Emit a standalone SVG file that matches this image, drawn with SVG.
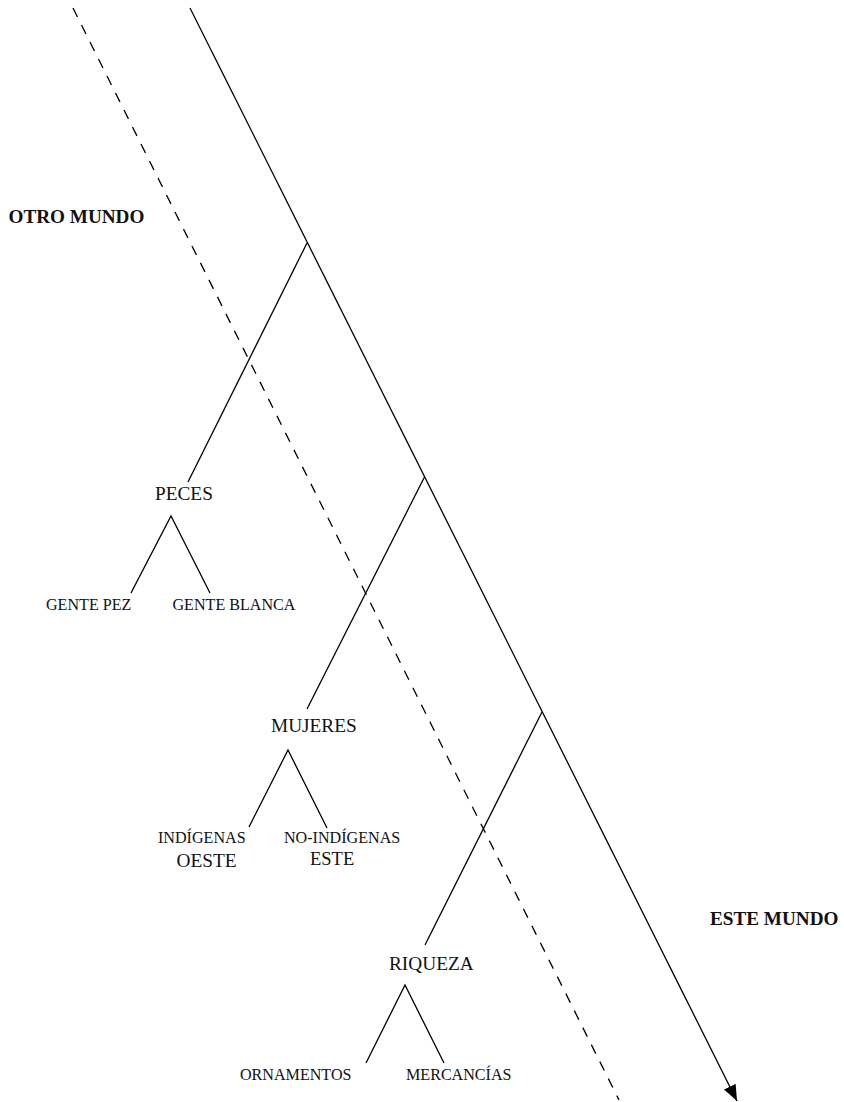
<svg xmlns="http://www.w3.org/2000/svg" width="844" height="1102" viewBox="0 0 844 1102">
<style>
  text { font-family: "Liberation Serif", "Times New Roman", serif; fill: #111; }
  .big { font-size: 19.3px; }
  .small { font-size: 16.1px; }
  .bold { font-size: 19.2px; font-weight: bold; }
  .ln { stroke: #000; stroke-width: 1.3; fill: none; }
  .dash { stroke: #000; stroke-width: 1.3; fill: none; stroke-dasharray: 10 9; }
</style>
<defs>
  <marker id="arrow" markerUnits="userSpaceOnUse" markerWidth="16" markerHeight="13" refX="16" refY="6.5" orient="auto">
    <path d="M0,0 L16,6.5 L0,13 z" fill="#000"/>
  </marker>
</defs>
<rect width="844" height="1102" fill="#fff"/>
<g id="connectors">
  <line class="dash" x1="73" y1="8" x2="619" y2="1100"/>
  <line class="ln" x1="190" y1="8" x2="737" y2="1101" marker-end="url(#arrow)"/>
  <line class="ln" x1="307" y1="243" x2="188" y2="482"/>
  <line class="ln" x1="424.5" y1="477" x2="307" y2="709"/>
  <line class="ln" x1="542" y1="712" x2="425" y2="945"/>
  <polyline class="ln" points="131,593 171,516 210,593"/>
  <polyline class="ln" points="249,827 288,750 327,828"/>
  <polyline class="ln" points="366,1063 405,985 444,1063"/>
</g>
<g id="otro-mundo"><text class="bold" x="8.5" y="222.5">OTRO MUNDO</text></g>
<g id="este-mundo"><text class="bold" x="710" y="925">ESTE MUNDO</text></g>
<g id="peces"><text class="big" x="155" y="499.5">PECES</text></g>
<g id="gente-pez"><text class="small" x="46" y="610">GENTE PEZ</text></g>
<g id="gente-blanca"><text class="small" x="172.5" y="610">GENTE BLANCA</text></g>
<g id="mujeres"><text class="big" x="271" y="731.5">MUJERES</text></g>
<g id="indigenas"><text class="small" x="158" y="843">INDÍGENAS</text><text class="big" x="176.5" y="866.5">OESTE</text></g>
<g id="no-indigenas"><text class="small" x="284" y="843">NO-INDÍGENAS</text><text class="big" x="310" y="865" style="font-size:18.5px">ESTE</text></g>
<g id="riqueza"><text class="big" x="389" y="970">RIQUEZA</text></g>
<g id="ornamentos"><text class="small" x="240" y="1080">ORNAMENTOS</text></g>
<g id="mercancias"><text class="small" x="406" y="1080">MERCANCÍAS</text></g>
</svg>
